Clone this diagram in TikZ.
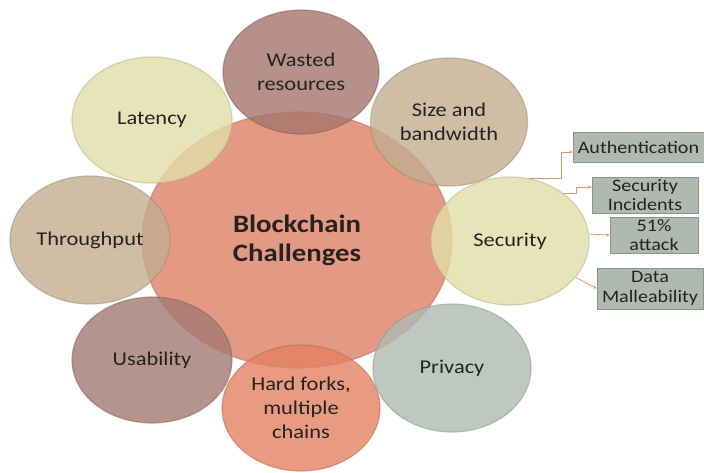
\documentclass[tikz,border=0pt]{standalone}
\usepackage{fontspec}
\setmainfont[FakeStretch=1.15]{Carlito}
\usetikzlibrary{shapes.geometric,arrows.meta}
\definecolor{cCenter}{RGB}{220,128,100}
\definecolor{cWasted}{RGB}{166,118,108}
\definecolor{cYellow}{RGB}{226,222,168}
\definecolor{cTan}{RGB}{194,174,144}
\definecolor{cMauve}{RGB}{164,122,114}
\definecolor{cOrange}{RGB}{228,130,98}
\definecolor{cGrey}{RGB}{176,186,178}
\definecolor{cBox}{RGB}{176,184,178}
\definecolor{cBoxEdge}{RGB}{140,148,142}
\definecolor{cLine}{RGB}{222,150,100}
\definecolor{cText}{RGB}{38,34,32}
\begin{document}
\begin{tikzpicture}[x=1pt,y=-1pt,
  bubble/.style={ellipse, inner sep=0pt, fill opacity=0.8, text opacity=1,
    draw opacity=0.5, line width=1.2pt, text=cText, align=center,
    font=\fontsize{19.5}{24}\selectfont},
  hub/.style={bubble, font=\fontsize{25}{29}\selectfont\bfseries},
  infobox/.style={rectangle, inner sep=0pt, fill=cBox, draw=cBoxEdge, line width=0.6pt,
    text=cText, align=center, font=\fontsize{17.5}{19.5}\selectfont},
  conn/.style={draw=cLine, line width=0.7pt, -{Stealth[length=3.5pt,width=3pt]}}
]
\useasboundingbox (0,0) rectangle (704,472);
\fill[white] (0,0) rectangle (704,472);
% central
\node[hub, fill=cCenter, draw=cCenter!80!black, minimum width=310, minimum height=256] (C) at (297,240) {Blockchain\\Challenges};
% satellites
\node[bubble, fill=cWasted, draw=cWasted!80!black, minimum width=156, minimum height=124] (W) at (301,72) {Wasted\\resources};
\node[bubble, fill=cYellow, draw=cYellow!80!black, minimum width=160, minimum height=126] (L) at (152,120) {Latency};
\node[bubble, fill=cTan, draw=cTan!80!black, minimum width=157, minimum height=128] (S) at (449,122) {Size and\\bandwidth};
\node[bubble, fill=cTan, draw=cTan!80!black, minimum width=160, minimum height=128] (T) at (90,240) {Throughput};
\node[bubble, fill=cYellow, draw=cYellow!80!black, minimum width=158, minimum height=128] (Sec) at (510,241) {Security};
\node[bubble, fill=cMauve, draw=cMauve!80!black, minimum width=160, minimum height=126] (U) at (152,360) {Usability};
\node[bubble, fill=cOrange, draw=cOrange!80!black, minimum width=158, minimum height=126] (H) at (301,408) {Hard forks,\\multiple\\chains};
\node[bubble, fill=cGrey, draw=cGrey!80!black, minimum width=158, minimum height=128] (P) at (452,368) {Privacy};
% boxes
\node[infobox, minimum width=131, minimum height=30] (Auth) at (638.5,147) {Authentication};
\node[infobox, minimum width=106, minimum height=36] (Inc) at (645,195) {Security\\Incidents};
\node[infobox, minimum width=88, minimum height=36] (Att) at (654,235) {51\%\\attack};
\node[infobox, minimum width=106, minimum height=41] (Data) at (650,288.5) {Data\\Malleability};
% connectors
\draw[conn] (Sec.73) -- ++(32,0) |- ([yshift=-5]Auth.west);
\draw[conn] (Sec.42) -- ++(13,0) |- ([yshift=8]Inc.west);
\draw[conn] (Sec.5) -- (Att.west);
\draw[conn] (Sec.-29) -- (Data.west);
\end{tikzpicture}
\end{document}
